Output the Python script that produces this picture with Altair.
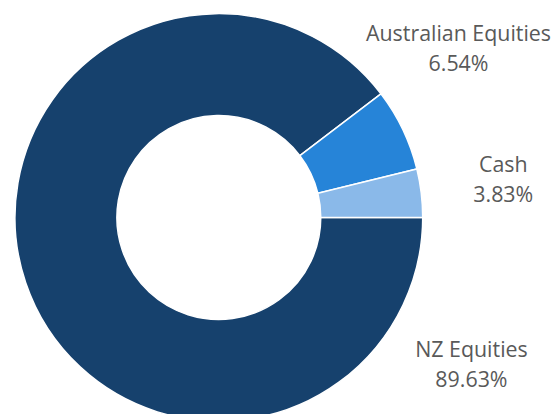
import altair as alt
import pandas as pd
import math

categories = ["NZ Equities", "Australian Equities", "Cash"]
values = [89.63, 6.54, 3.83]
colors = ["#16416D", "#2684D8", "#8AB9E9"]

df = pd.DataFrame({"category": categories, "value": values, "order": [0, 1, 2]})

base = alt.Chart(df)

arc = base.mark_arc(outerRadius=205, innerRadius=102.5, stroke="white", strokeWidth=1.5).encode(
    theta=alt.Theta("value:Q", stack=True, scale=alt.Scale(range=[math.pi / 2, math.pi / 2 + 2 * math.pi])),
    order=alt.Order("order:Q"),
    color=alt.Color("category:N", scale=alt.Scale(domain=categories, range=colors), legend=None),
    x=alt.value(212),
    y=alt.value(209.5),
)

label_pos = {"Australian Equities": (453, 26), "Cash": (498, 158), "NZ Equities": (466, 344)}

layers = [arc]
for cat, val in zip(categories, values):
    px, py = label_pos[cat]
    layers.append(
        base.transform_filter(alt.datum.category == cat)
        .mark_text(font="Open Sans", fontSize=21.5, color="#595959", align="center", baseline="middle", lineHeight=30)
        .encode(text=alt.value([cat, f"{val:.2f}%"]), x=alt.value(px), y=alt.value(py))
    )

chart = alt.layer(*layers).properties(width=544, height=398, padding=0).configure_view(stroke=None)

chart.save("out.html", embed_options={"renderer": "svg", "actions": False})
